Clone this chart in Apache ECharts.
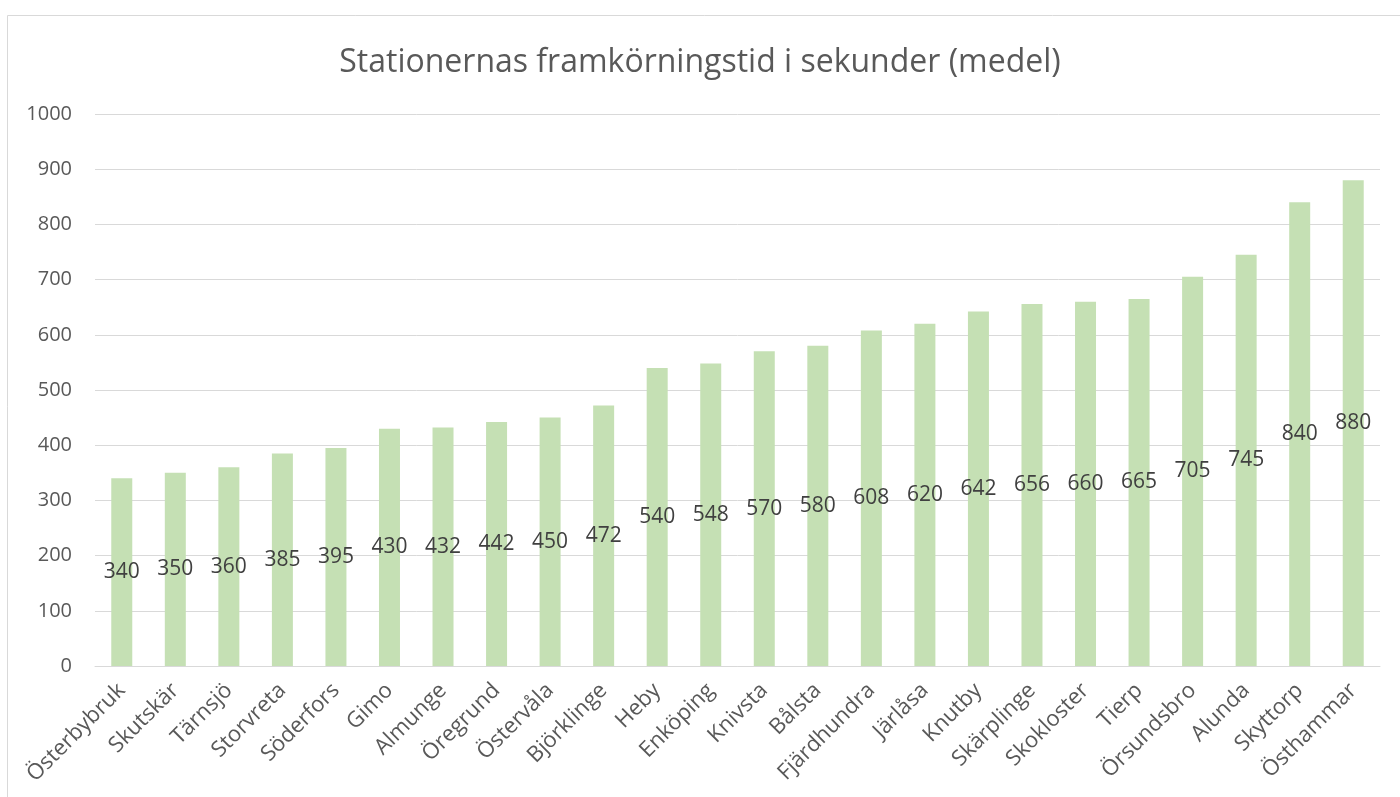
<!DOCTYPE html>
<html lang="sv">
<head>
    <meta charset="UTF-8">
    <title>Stationernas framkörningstid</title>
    <style>
        html, body { margin: 0; padding: 0; background: #fff; }
    </style>
</head>
<body>

    <script src="https://cdn.jsdelivr.net/npm/echarts@6/dist/echarts.min.js"></script>

    <div id="main" style="width: 1400px;height:797px;"></div>

    <script>
        // stationer och medeltid i sekunder
        var stations = ['Österbybruk', 'Skutskär', 'Tärnsjö', 'Storvreta', 'Söderfors', 'Gimo',
            'Almunge', 'Öregrund', 'Östervåla', 'Björklinge', 'Heby', 'Enköping', 'Knivsta',
            'Bålsta', 'Fjärdhundra', 'Järlåsa', 'Knutby', 'Skärplinge', 'Skokloster', 'Tierp',
            'Örsundsbro', 'Alunda', 'Skyttorp', 'Östhammar'];
        var seconds = [340, 350, 360, 385, 395, 430, 432, 442, 450, 472, 540, 548, 570, 580,
            608, 620, 642, 656, 660, 665, 705, 745, 840, 880];

        var myChart = echarts.init(document.getElementById('main'));

        var font = '"Open Sans", "Noto Sans", sans-serif';

        var option = {
            animation: false,
            textStyle: { fontFamily: font },
            title: {
                text: 'Stationernas framkörningstid i sekunder (medel)',
                left: 'center',
                top: 42,
                textStyle: { fontSize: 32, fontWeight: 'normal', color: '#595959', fontFamily: font }
            },
            // ramen runt diagrammet
            graphic: [{
                type: 'rect',
                shape: { x: 7.5, y: 15.5, width: 1400, height: 800 },
                style: { fill: 'none', stroke: '#d9d9d9', lineWidth: 1 },
                silent: true
            }],
            grid: { left: 95, right: 20, top: 114, bottom: 131 },
            xAxis: {
                type: 'category',
                data: stations,
                axisLine: { lineStyle: { color: '#d9d9d9', width: 1 } },
                axisTick: { show: false },
                axisLabel: {
                    rotate: 45,
                    interval: 0,
                    margin: 21,
                    fontSize: 22,
                    color: '#595959',
                    fontFamily: font
                }
            },
            yAxis: {
                type: 'value',
                min: 0,
                max: 1000,
                interval: 100,
                axisLine: { show: false },
                axisTick: { show: false },
                splitLine: { lineStyle: { color: '#d9d9d9', width: 1 } },
                axisLabel: {
                    fontSize: 20,
                    color: '#595959',
                    margin: 23,
                    fontFamily: font,
                    formatter: function (v) { return String(v); }
                }
            },
            series: [{
                type: 'bar',
                data: seconds,
                barWidth: 21,
                itemStyle: { color: '#c5e0b4' },
                label: {
                    show: true,
                    position: 'inside',
                    fontSize: 21,
                    color: '#404040',
                    fontFamily: font
                }
            }]
        };
        myChart.setOption(option);
    </script>

</body>
</html>
